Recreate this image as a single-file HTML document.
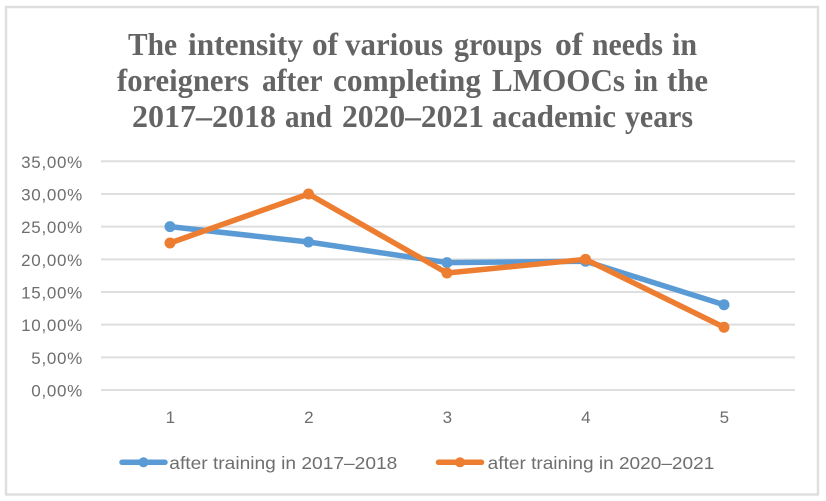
<!DOCTYPE html>
<html lang="en">
<head>
<meta charset="utf-8">
<title>Intensity of needs chart</title>
<style>
html,body{margin:0;padding:0;background:#fff;width:826px;height:501px;overflow:hidden}
svg{display:block}
.tick{font-family:"Liberation Sans",sans-serif;font-size:17px;fill:#6e6e6e;letter-spacing:.7px}
.legend-text{font-family:"Liberation Sans",sans-serif;font-size:17.5px;fill:#6e6e6e}
.title{font-family:"Liberation Serif",serif;font-size:32px;font-weight:bold;fill:#646464}
</style>
</head>
<body>
<svg id="chart" width="826" height="501" viewBox="0 0 826 501" xmlns="http://www.w3.org/2000/svg">
<rect x="6" y="7" width="812" height="487.5" fill="#fff" stroke="#dedede" stroke-width="2.4"/>
<g>
<text class="title" y="55"><tspan x="128" textLength="49" lengthAdjust="spacingAndGlyphs">The</tspan> <tspan x="188" textLength="115" lengthAdjust="spacingAndGlyphs">intensity</tspan> <tspan x="312" textLength="26" lengthAdjust="spacingAndGlyphs">of</tspan> <tspan x="345" textLength="98" lengthAdjust="spacingAndGlyphs">various</tspan> <tspan x="454" textLength="88" lengthAdjust="spacingAndGlyphs">groups</tspan> <tspan x="555" textLength="28" lengthAdjust="spacingAndGlyphs">of</tspan> <tspan x="592" textLength="71" lengthAdjust="spacingAndGlyphs">needs</tspan> <tspan x="672" textLength="25" lengthAdjust="spacingAndGlyphs">in</tspan></text>
<text class="title" y="91"><tspan x="117" textLength="132" lengthAdjust="spacingAndGlyphs">foreigners</tspan> <tspan x="262" textLength="60" lengthAdjust="spacingAndGlyphs">after</tspan> <tspan x="333" textLength="148" lengthAdjust="spacingAndGlyphs">completing</tspan> <tspan x="492" textLength="133" lengthAdjust="spacingAndGlyphs">LMOOCs</tspan> <tspan x="634" textLength="24" lengthAdjust="spacingAndGlyphs">in</tspan> <tspan x="667" textLength="41" lengthAdjust="spacingAndGlyphs">the</tspan></text>
<text class="title" y="127"><tspan x="132" textLength="144" lengthAdjust="spacingAndGlyphs">2017–2018</tspan> <tspan x="285" textLength="47" lengthAdjust="spacingAndGlyphs">and</tspan> <tspan x="342" textLength="142" lengthAdjust="spacingAndGlyphs">2020–2021</tspan> <tspan x="492" textLength="124" lengthAdjust="spacingAndGlyphs">academic</tspan> <tspan x="625" textLength="68" lengthAdjust="spacingAndGlyphs">years</tspan></text>
</g>
<g id="grid"></g>
<g id="yticks"></g>
<g id="xticks"></g>
<g id="series"></g>
<g id="legend"></g>
</svg>
<script>
const categories = ["1", "2", "3", "4", "5"];
const seriesA = [25.0, 22.65, 19.5, 19.7, 13.05];
const seriesB = [22.5, 30.0, 17.9, 20.0, 9.6];
const seriesNames = ["after training in 2017–2018", "after training in 2020–2021"];
const seriesColors = ["#5b9bd5", "#ed7d31"];
const yTickValues = [0, 5, 10, 15, 20, 25, 30, 35];
const yTickLabels = ["0,00%", "5,00%", "10,00%", "15,00%", "20,00%", "25,00%", "30,00%", "35,00%"];

const NS = "http://www.w3.org/2000/svg";
const plotLeft = 101, plotRight = 795, plotTop = 161.3, plotBottom = 390;
const bandLeft = 100.75, bandWidth = 692.5;
const yMax = 35;
function xScale(i) {
  return bandLeft + bandWidth * (i + 0.5) / categories.length;
}
function yScale(v) {
  return plotBottom - (plotBottom - plotTop) * v / yMax;
}
function make(tag, attrs, parent) {
  const el = document.createElementNS(NS, tag);
  for (const k in attrs) el.setAttribute(k, attrs[k]);
  parent.appendChild(el);
  return el;
}
const grid = document.getElementById("grid");
const yticks = document.getElementById("yticks");
const xticks = document.getElementById("xticks");
const seriesGroup = document.getElementById("series");
const legend = document.getElementById("legend");

yTickValues.forEach(function (v, i) {
  const line = make("line", {x1: plotLeft, x2: plotRight, y1: yScale(v), y2: yScale(v), stroke: "#dedede", "stroke-width": 2}, grid);
  
  
  const label = make("text", {x: 83, y: yScale(v) + 6.5, "text-anchor": "end", class: "tick"}, yticks);
  
  
  label.textContent = yTickLabels[i];
});

categories.forEach(function (c, i) {
  const label = make("text", {x: xScale(i) + 0.7, y: 423, "text-anchor": "middle", class: "tick"}, xticks);
  
  
  label.textContent = c;
});

[seriesA, seriesB].forEach(function (vals, s) {
  const pts = vals.map(function (v, i) { return xScale(i) + "," + yScale(v); }).join(" ");
  const line = make("polyline", {points: pts, fill: "none", stroke: seriesColors[s], "stroke-width": 5.5, "stroke-linejoin": "round", "stroke-linecap": "round"}, seriesGroup);
  
  
  vals.forEach(function (v, i) {
    const pt = make("circle", {cx: xScale(i), cy: yScale(v), r: 5.5, fill: seriesColors[s]}, seriesGroup);
    
    
  });
});

const legendStarts = [122, 438.5];
const legendTextX = [169.3, 487.7];
const legendTextW = [228, 226.6];
seriesNames.forEach(function (name, s) {
  const y = 462.3;
  const key = make("line", {x1: legendStarts[s], x2: legendStarts[s] + 43, y1: y, y2: y, stroke: seriesColors[s], "stroke-width": 5.5, "stroke-linecap": "round"}, legend);
  
  
  const dot = make("circle", {cx: legendStarts[s] + 21.5, cy: y, r: 5, fill: seriesColors[s]}, legend);
  
  
  const txt = make("text", {x: legendTextX[s], y: 469, class: "legend-text", textLength: legendTextW[s], lengthAdjust: "spacingAndGlyphs"}, legend);
  
  
  txt.textContent = name;
});
</script>
</body>
</html>
